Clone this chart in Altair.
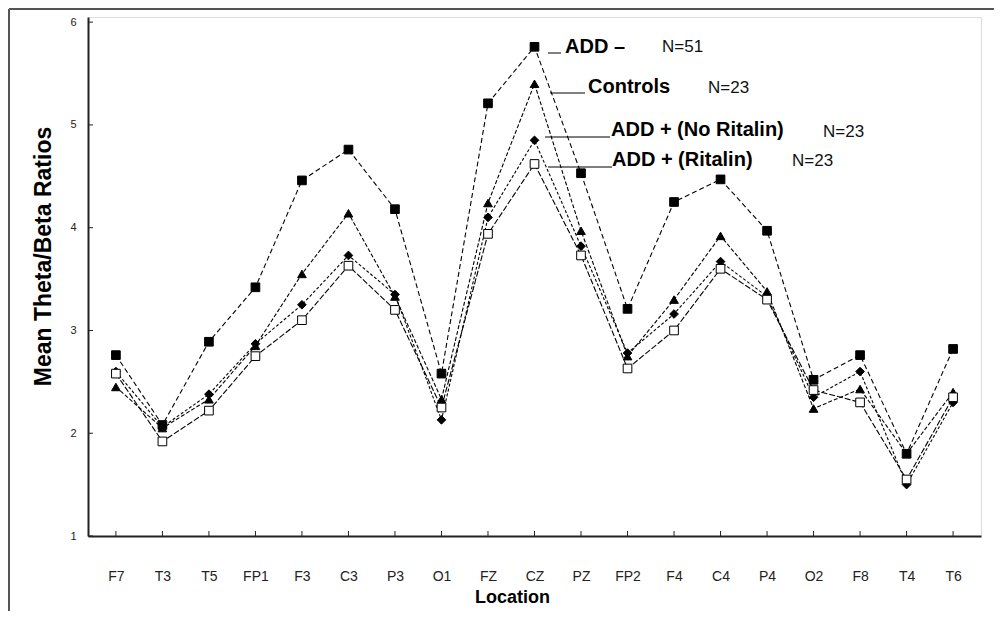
import altair as alt
import pandas as pd

locations = ["F7", "T3", "T5", "FP1", "F3", "C3", "P3", "O1", "FZ", "CZ",
             "PZ", "FP2", "F4", "C4", "P4", "O2", "F8", "T4", "T6"]
add_minus = [2.76, 2.08, 2.89, 3.42, 4.46, 4.76, 4.18, 2.58, 5.21, 5.76,
             4.53, 3.21, 4.25, 4.47, 3.97, 2.52, 2.76, 1.80, 2.82]
controls = [2.45, 2.05, 2.33, 2.85, 3.55, 4.14, 3.33, 2.33, 4.24, 5.40,
            3.97, 2.75, 3.30, 3.92, 3.38, 2.24, 2.43, 1.80, 2.40]
add_plus_no_ritalin = [2.60, 2.06, 2.38, 2.87, 3.25, 3.73, 3.35, 2.13, 4.10, 4.85,
                       3.82, 2.78, 3.16, 3.67, 3.33, 2.35, 2.60, 1.50, 2.30]
add_plus_ritalin = [2.58, 1.92, 2.22, 2.75, 3.10, 3.63, 3.20, 2.25, 3.94, 4.62,
                    3.73, 2.63, 3.00, 3.60, 3.30, 2.42, 2.30, 1.55, 2.35]
series_names = ["ADD \u2013", "Controls", "ADD + (No Ritalin)", "ADD + (Ritalin)"]
series_n = ["N=51", "N=23", "N=23", "N=23"]
y_ticks = [1, 2, 3, 4, 5, 6]

rows = []
for name, vals in zip(series_names, [add_minus, controls, add_plus_no_ritalin, add_plus_ritalin]):
    for loc, v in zip(locations, vals):
        rows.append({"Location": loc, "Value": v, "Group": name})
df = pd.DataFrame(rows)

W, H = 893, 519
FONT = "Liberation Sans"

xscale = alt.Scale(type="point", padding=0.6, domain=locations)
xenc = alt.X("Location:N", sort=locations, scale=xscale,
             axis=alt.Axis(title="Location", labelAngle=0, tickSize=0, labelPadding=33,
                           labelFont=FONT, labelFontSize=14, labelColor="#222",
                           titleFont=FONT, titleFontSize=18, titleFontWeight="bold",
                           titlePadding=5, titleColor="black",
                           titleAnchor="start", titleAlign="center", titleX=424,
                           domainColor="#222", domainWidth=2, grid=False))
yenc = alt.Y("Value:Q", scale=alt.Scale(domain=[1, 6.05], nice=False, zero=False),
             axis=alt.Axis(title="Mean Theta/Beta Ratios", values=y_ticks, format="d", tickSize=0,
                           labelPadding=12, labelFont=FONT, labelFontSize=11, labelColor="#222",
                           titleFont=FONT, titleFontSize=23, titleFontWeight="bold",
                           titlePadding=14, titleColor="black",
                           titleAnchor="start", titleAlign="center", titleY=239,
                           domainColor="#222", domainWidth=2, grid=False))
xplain = alt.X("Location:N", sort=locations, scale=xscale)

base = alt.Chart(df)

lines = base.mark_line(strokeWidth=1.1, color="black").encode(
    x=xenc, y=yenc,
    detail="Group:N",
    strokeDash=alt.StrokeDash("Group:N", scale=alt.Scale(domain=series_names,
                              range=[[5, 3], [4, 2], [3, 2], [6, 2]]), legend=None),
)

points = base.mark_point(filled=True, size=75, stroke="black", strokeWidth=1, opacity=1).encode(
    x=xplain, y="Value:Q",
    shape=alt.Shape("Group:N", scale=alt.Scale(domain=series_names,
                    range=["square", "triangle-up", "diamond", "square"]), legend=None),
    fill=alt.Fill("Group:N", scale=alt.Scale(domain=series_names,
                  range=["black", "black", "black", "white"]), legend=None),
)

xticks = alt.Chart(pd.DataFrame({"Location": locations})).mark_rule(color="#222", strokeWidth=1).encode(
    x=xplain, y=alt.value(H), y2=alt.value(H - 5))
yticks = alt.Chart(pd.DataFrame({"Value": y_ticks})).mark_rule(color="#222", strokeWidth=1).encode(
    y="Value:Q", x=alt.value(0), x2=alt.value(5))

# annotations (page pixel positions converted to plot coordinates)
OX, OY = 88, 17
ann_pos = [(565, 47, 662, 47, 548, 561, 53),
           (588, 87, 708, 88, 550, 585, 93),
           (611, 130, 823, 132, 545, 610, 137),
           (612, 160, 792, 161, 548, 612, 167)]
layers = [lines, points, xticks, yticks]
for name, ntext, (tx, ty, nx, ny, lx1, lx2, ly) in zip(series_names, series_n, ann_pos):
    layers.append(alt.Chart(pd.DataFrame({"t": [name]})).mark_text(
        align="left", baseline="middle", font=FONT, fontSize=20, fontWeight="bold", color="black"
    ).encode(text="t:N", x=alt.value(tx - OX), y=alt.value(ty - OY)))
    layers.append(alt.Chart(pd.DataFrame({"t": [ntext]})).mark_text(
        align="left", baseline="middle", font=FONT, fontSize=17, color="#111"
    ).encode(text="t:N", x=alt.value(nx - OX), y=alt.value(ny - OY)))
    layers.append(alt.Chart(pd.DataFrame({"t": [0]})).mark_rule(color="black", strokeWidth=1).encode(
        x=alt.value(lx1 - OX), x2=alt.value(lx2 - OX), y=alt.value(ly - OY)))

# frame lines (top and left)
layers.append(alt.Chart(pd.DataFrame({"t": [0]})).mark_rule(color="#555", strokeWidth=2).encode(
    x=alt.value(9 - OX), x2=alt.value(1002 - OX), y=alt.value(9 - OY)))
layers.append(alt.Chart(pd.DataFrame({"t": [0]})).mark_rule(color="#555", strokeWidth=2).encode(
    x=alt.value(9 - OX), y=alt.value(9 - OY), y2=alt.value(617 - OY)))

chart = alt.layer(*layers).properties(
    width=W, height=H,
    autosize=alt.AutoSizeParams(type="none"),
    padding={"left": 80, "top": 9, "right": 13, "bottom": 75},
).configure_view(stroke=None).configure(background="white")

chart.save("out.html", embed_options={"renderer": "svg", "actions": False})
